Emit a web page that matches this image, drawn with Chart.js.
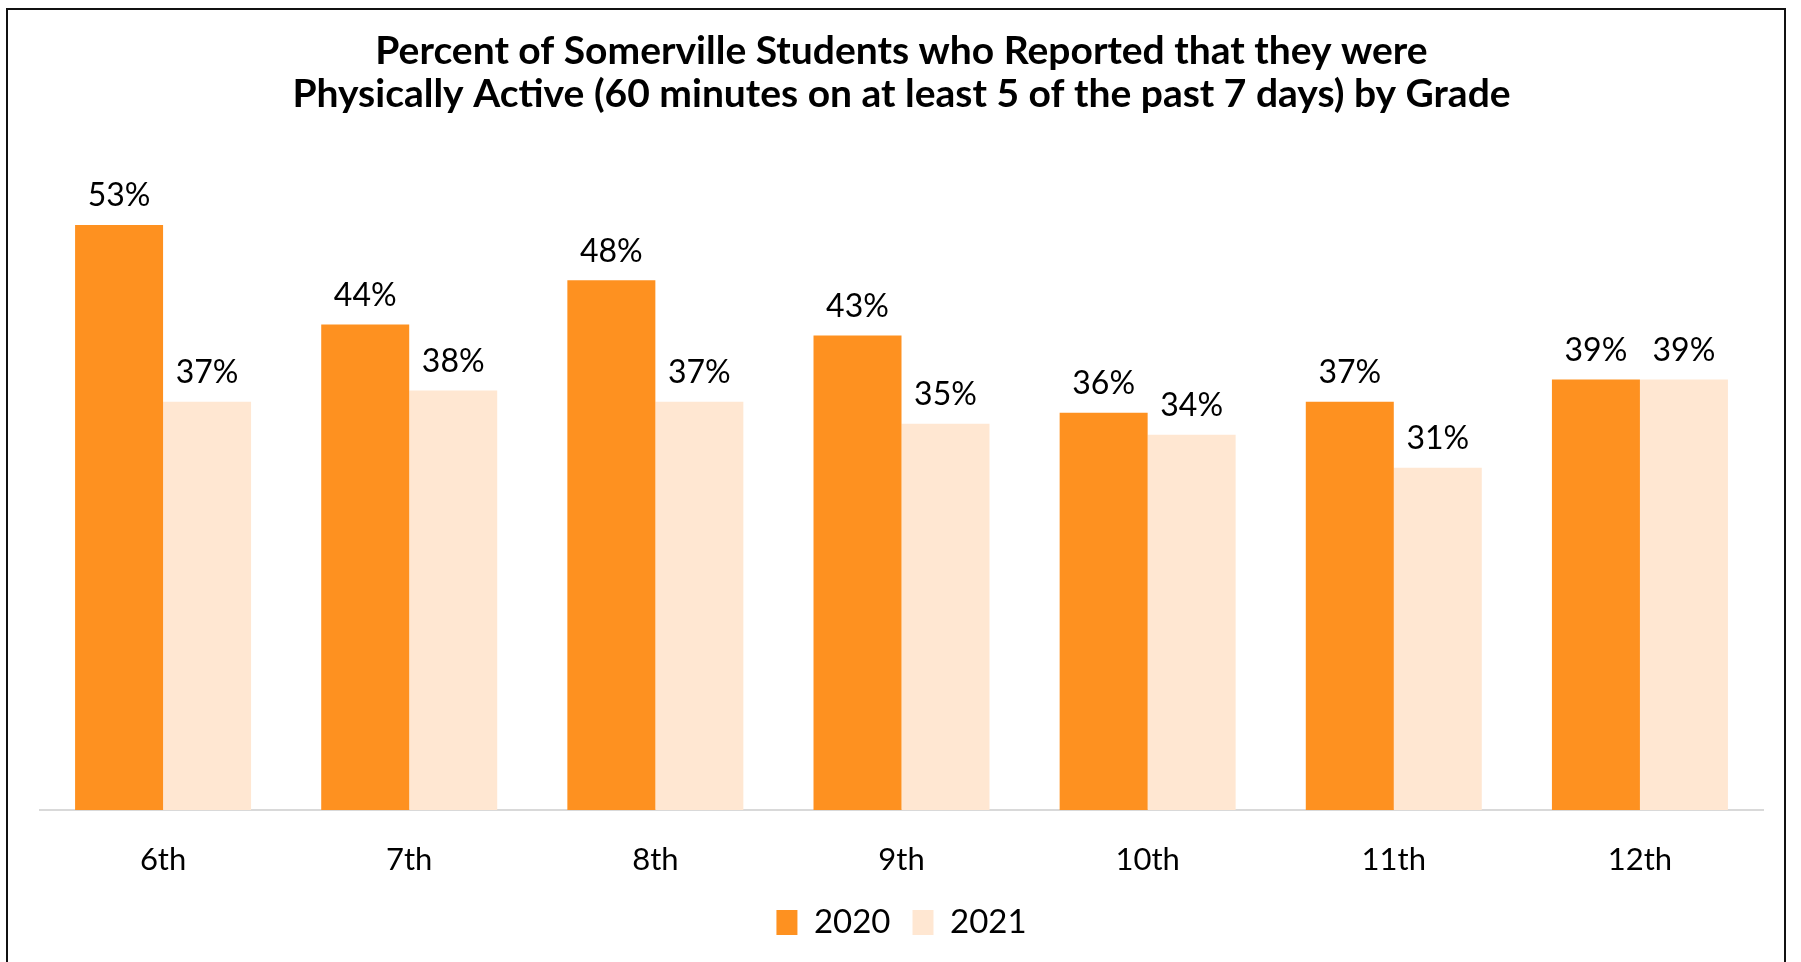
<!DOCTYPE html>
<html>
<head>
<meta charset="utf-8">
<script src="https://cdn.jsdelivr.net/npm/chart.js@4"></script>
<style>
  html, body { margin: 0; padding: 0; background: #fff; overflow: hidden; }
  #wrap { position: relative; width: 1801px; height: 962px; }
  #frame {
    position: absolute; left: 6px; top: 8px; width: 1780px; height: 980px;
    border: 2px solid #111; box-sizing: border-box;
  }
  canvas { position: absolute; left: 0; top: 0; }
</style>
</head>
<body>
<div id="wrap">
  <div id="frame"></div>
  <canvas id="chart" width="1801" height="962"></canvas>
</div>
<script>
  const grades = ['6th', '7th', '8th', '9th', '10th', '11th', '12th'];
  const values2020 = [53, 44, 48, 43, 36, 37, 39];
  const values2021 = [37, 38, 37, 35, 34, 31, 39];
  const seriesNames = ['2020', '2021'];
  const titleLines = [
    'Percent of Somerville Students who Reported that they were',
    'Physically Active (60 minutes on at least 5 of the past 7 days) by Grade'
  ];

  const FONT = 'Lato, "Open Sans", sans-serif';

  // draw the % labels over each bar
  const barLabels = {
    id: 'barLabels',
    afterDatasetsDraw(chart) {
      const ctx = chart.ctx;
      ctx.save();
      ctx.font = '32px ' + FONT;
      ctx.fillStyle = '#000';
      ctx.textAlign = 'center';
      ctx.textBaseline = 'bottom';
      chart.data.datasets.forEach((ds, di) => {
        chart.getDatasetMeta(di).data.forEach((bar, i) => {
          ctx.fillText(ds.data[i] + '%', bar.x, bar.y - 13);
        });
      });
      ctx.restore();
    }
  };

  new Chart(document.getElementById('chart'), {
    type: 'bar',
    data: {
      labels: grades,
      datasets: [
        { label: seriesNames[0], data: values2020, backgroundColor: '#FE9120' },
        { label: seriesNames[1], data: values2021, backgroundColor: '#FFE7D2' }
      ]
    },
    options: {
      responsive: false,
      animation: false,
      layout: { padding: { left: 40, right: 38, top: 0, bottom: 13 } },
      datasets: { bar: { categoryPercentage: 0.715, barPercentage: 1.0 } },
      scales: {
        x: {
          grid: { display: false, drawTicks: false },
          border: { display: true, color: '#D9D9D9', width: 2 },
          ticks: { color: '#000', font: { family: FONT, size: 31 }, padding: 31 },
          afterFit(scale) { scale.height = 74; }
        },
        y: {
          display: false,
          min: 0,
          max: 60
        }
      },
      plugins: {
        title: {
          display: true,
          text: titleLines,
          color: '#000',
          font: { family: FONT, size: 39, weight: 'bold', lineHeight: 1.1 },
          padding: { top: 30, bottom: 32 }
        },
        legend: {
          position: 'bottom',
          labels: {
            color: '#000',
            font: { family: FONT, size: 33 },
            boxWidth: 21,
            boxHeight: 25,
            padding: 22
          }
        },
        tooltip: { enabled: false }
      }
    },
    plugins: [barLabels]
  });
</script>
</body>
</html>
